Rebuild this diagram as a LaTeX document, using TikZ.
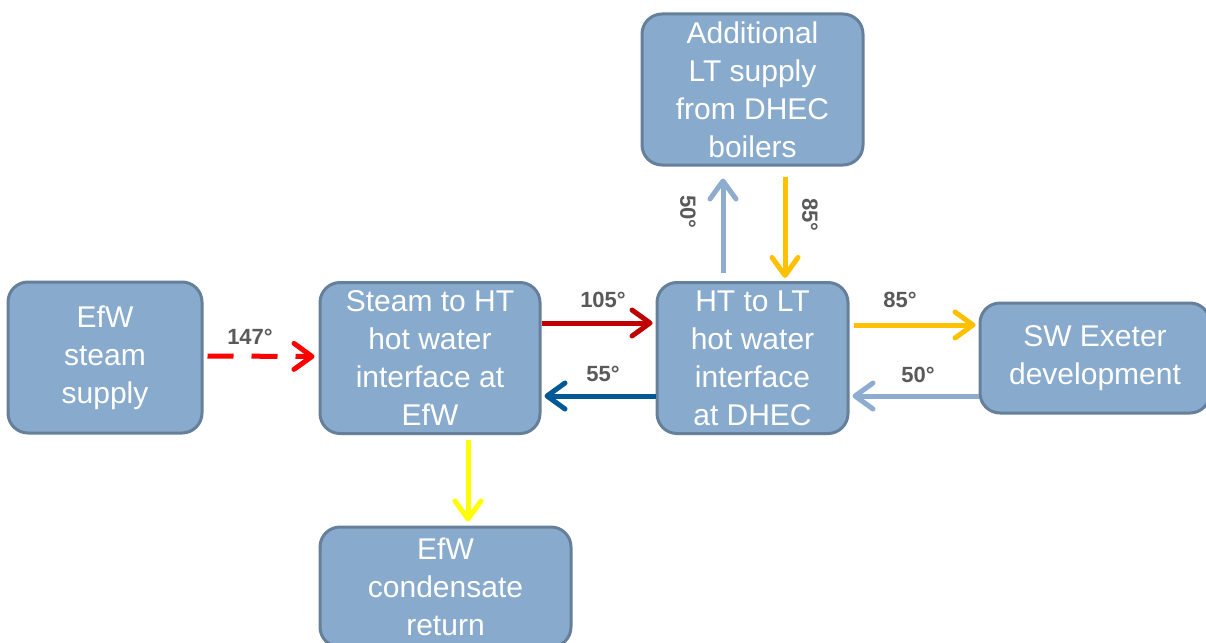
\documentclass[tikz,border=0pt]{standalone}
\usepackage{fontspec}
\setmainfont{Liberation Sans}
\usetikzlibrary{arrows.meta}

\definecolor{boxfill}{RGB}{136,170,204}
\definecolor{boxline}{RGB}{102,128,155}
\definecolor{labelgray}{RGB}{89,89,89}
\definecolor{steamred}{RGB}{255,0,0}
\definecolor{hotred}{RGB}{192,0,0}
\definecolor{returnblue}{RGB}{0,88,150}
\definecolor{coolblue}{RGB}{141,172,207}
\definecolor{ltorange}{RGB}{255,192,0}
\definecolor{condyellow}{RGB}{255,255,0}

\tikzset{
  block/.style={draw=boxline, fill=boxfill, line width=3pt, rounded corners=20pt,
    text=white, align=center, inner sep=0pt, font=\fontsize{30}{38}\selectfont},
  flow/.style={line width=5pt, -{Straight Barb[length=18pt,width=26pt,round]}},
  temp/.style={text=labelgray, inner sep=0pt, font=\fontsize{22}{24}\selectfont\bfseries}
}

\begin{document}
\begin{tikzpicture}[x=1pt,y=-1pt]
    \useasboundingbox (0,0) rectangle (1206,642);

    % boxes
    \node[block, minimum width=194pt, minimum height=151pt] (efw) at (105,357.5) {EfW\\steam\\supply};
    \node[block, minimum width=220pt, minimum height=151pt] (steam) at (430,358) {Steam to HT\\hot water\\interface at\\EfW};
    \node[block, minimum width=191pt, minimum height=151pt] (htlt) at (752.5,358) {HT to LT\\hot water\\interface\\at DHEC};
    \node[block, minimum width=230pt, minimum height=110pt] (sw) at (1095,358) {SW Exeter\\development};
    \node[block, minimum width=221pt, minimum height=151pt] (extra) at (752.5,89.5) {Additional\\LT supply\\from DHEC\\boilers};
    \node[block, minimum width=251pt, minimum height=120pt] (cond) at (445.5,587) {EfW\\condensate\\return};

    % flows
    \draw[flow, steamred, dash pattern=on 26pt off 18pt, shorten <=4pt, shorten >=4pt]
        ([yshift=1.5pt]efw.east) -- ([yshift=1.5pt]steam.west);
    \draw[flow, hotred, shorten >=3pt] ([yshift=35pt]steam.east) -- ([yshift=35pt]htlt.west);
    \draw[flow, returnblue, shorten >=3pt] ([yshift=-38pt]htlt.west) -- ([yshift=-38pt]steam.east);
    \draw[flow, ltorange, shorten <=4pt, shorten >=3pt] ([yshift=33pt]htlt.east) -- ([yshift=33pt]sw.west);
    \draw[flow, coolblue, shorten >=3pt] ([yshift=-38pt]sw.west) -- ([yshift=-38pt]htlt.east);
    \draw[flow, coolblue, shorten <=8pt, shorten >=12pt] ([xshift=-29.5pt]htlt.north) -- ([xshift=-29.5pt]extra.south);
    \draw[flow, ltorange, shorten <=10pt, shorten >=3pt] ([xshift=32.5pt]extra.south) -- ([xshift=32.5pt]htlt.north);
    \draw[flow, condyellow, shorten <=5pt, shorten >=4pt] ([xshift=38pt]steam.south) -- ([xshift=38pt]steam.south |- cond.north);

    % temperatures
    \node[temp] (t147) at (250,337) {147°};
    \node[temp] (t105) at (603,300) {105°};
    \node[temp] (t55) at (603,374) {55°};
    \node[temp] (t85a) at (900,300) {85°};
    \node[temp] (t50a) at (918,375) {50°};
    \node[temp, rotate=-90] (t50b) at (688,212) {50°};
    \node[temp, rotate=-90] (t85b) at (810,215) {85°};
\end{tikzpicture}
\end{document}
